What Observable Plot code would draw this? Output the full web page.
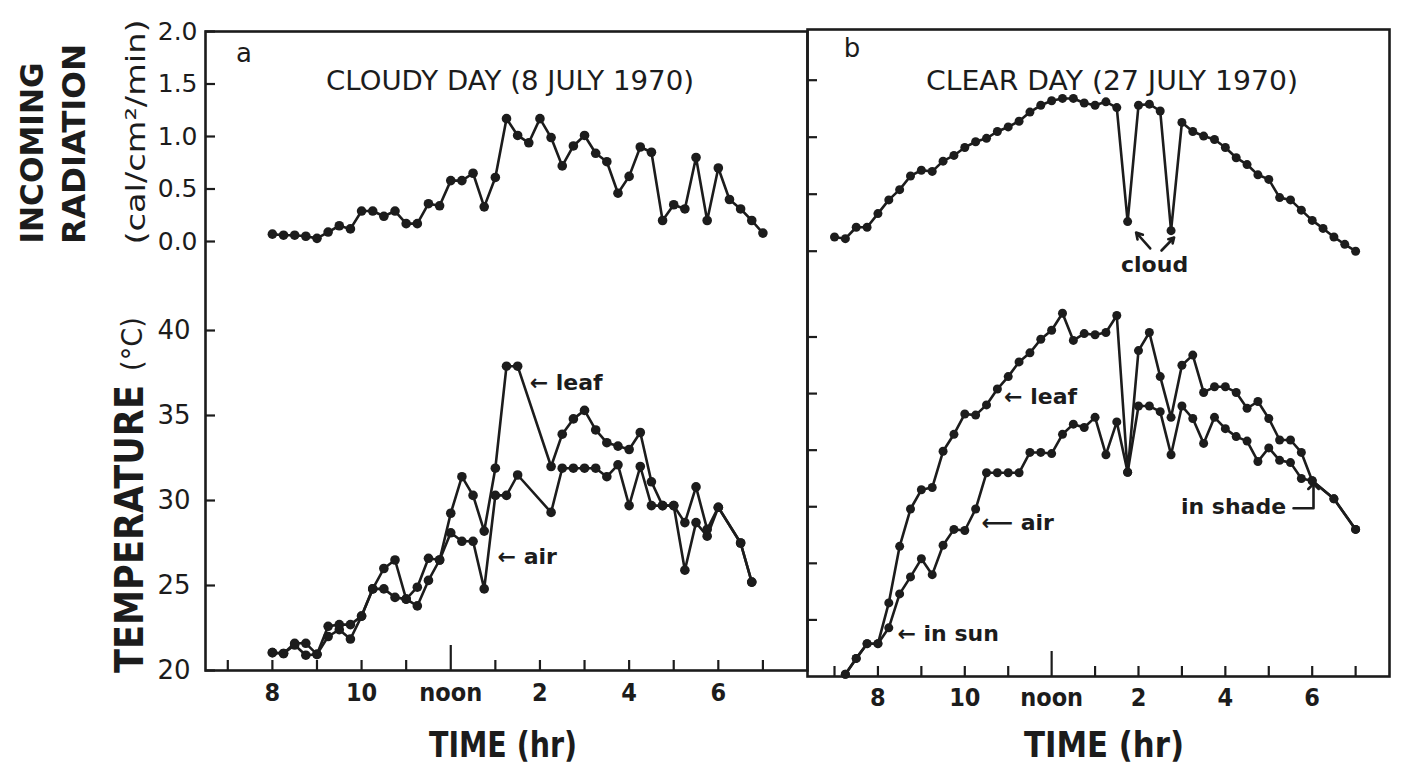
<!DOCTYPE html>
<html><head><meta charset="utf-8">
<script src="https://cdn.jsdelivr.net/npm/d3@7"></script>
<script src="https://cdn.jsdelivr.net/npm/@observablehq/plot@0.6"></script>
<style>
body{margin:0;background:#fff;}
#chart{position:relative;width:1401px;height:764px;overflow:hidden;background:#fff;}
#chart svg{position:absolute;top:0;}
</style></head><body><div id="chart"></div>
<script>
// ---------------- DATA ----------------
// Panel a: cloudy day (8 July 1970) — time in decimal hours
const radATime = [8,8.25,8.5,8.75,9,9.25,9.5,9.75,10,10.25,10.5,10.75,11,11.25,11.5,11.75,12,12.25,12.5,12.75,13,13.25,13.5,13.75,14,14.25,14.5,14.75,15,15.25,15.5,15.75,16,16.25,16.5,16.75,17,17.25,17.5,17.75,18,18.25,18.5,18.75,19];
const radAValue = [0.07,0.06,0.06,0.05,0.03,0.09,0.15,0.12,0.29,0.29,0.24,0.29,0.17,0.17,0.36,0.34,0.58,0.58,0.65,0.33,0.61,1.17,1.01,0.94,1.17,0.99,0.72,0.91,1.01,0.84,0.76,0.46,0.62,0.90,0.85,0.20,0.35,0.31,0.80,0.20,0.70,0.40,0.31,0.20,0.08];

const tempATime = [8,8.25,8.5,8.75,9,9.25,9.5,9.75,10,10.25,10.5,10.75,11,11.25,11.5,11.75,12,12.25,12.5,12.75,13,13.25,13.5,14.25,14.5,14.75,15,15.25,15.5,15.75,16,16.25,16.5,16.75,17,17.25,17.5,17.75,18,18.5,18.75];
const leafA = [21.05,21.0,21.6,21.6,20.95,22.6,22.7,22.7,23.2,24.8,26.0,26.5,24.2,24.9,26.6,26.5,29.25,31.4,30.3,28.2,31.9,37.9,37.9,32.0,33.9,34.8,35.3,34.15,33.4,33.2,33.0,34.0,31.1,29.7,29.7,28.7,30.8,28.3,29.6,27.5,25.2];
const airA  = [21.05,21.0,21.5,20.9,20.95,22.0,22.4,21.85,23.2,24.8,24.8,24.3,24.2,23.8,25.3,26.5,28.1,27.6,27.6,24.8,30.3,30.3,31.5,29.3,31.9,31.9,31.9,31.9,31.4,32.1,29.7,32.0,29.7,29.7,29.7,25.9,28.7,27.9,29.6,27.5,25.2];

// Panel b: clear day (27 July 1970)
const radBTime = [7,7.25,7.5,7.75,8,8.25,8.5,8.75,9,9.25,9.5,9.75,10,10.25,10.5,10.75,11,11.25,11.5,11.75,12,12.25,12.5,12.75,13,13.25,13.5,13.75,14,14.25,14.5,14.75,15,15.25,15.5,15.75,16,16.25,16.5,16.75,17,17.25,17.5,17.75,18,18.25,18.5,18.75,19];
const radBValue = [0.125,0.11,0.21,0.21,0.33,0.45,0.54,0.66,0.71,0.70,0.79,0.84,0.91,0.96,0.99,1.05,1.09,1.14,1.22,1.28,1.32,1.34,1.34,1.30,1.28,1.31,1.26,0.26,1.28,1.29,1.23,0.18,1.13,1.05,1.01,0.98,0.91,0.82,0.76,0.67,0.63,0.47,0.45,0.36,0.27,0.20,0.125,0.06,0.0];

const tempBTime = [7.25,7.5,7.75,8,8.25,8.5,8.75,9,9.25,9.5,9.75,10,10.25,10.5,10.75,11,11.25,11.5,11.75,12,12.25,12.5,12.75,13,13.25,13.5,13.75,14,14.25,14.5,14.75,15,15.25,15.5,15.75,16,16.25,16.5,16.75,17,17.25,17.5,17.75,18,18.5,19];
const leafB = [20.2,21.6,22.9,22.9,26.5,31.5,34.8,36.5,36.7,39.9,41.4,43.2,43.1,44.0,45.4,46.5,47.8,48.6,49.8,50.6,52.1,49.7,50.3,50.2,50.4,51.9,38.05,48.8,50.4,46.5,42.9,47.5,48.4,45.1,45.6,45.6,45.1,43.7,44.3,42.8,40.9,40.9,39.8,37.3,35.7,33.0];
const airB  = [20.2,21.6,22.9,22.9,24.3,27.3,28.8,30.4,29.0,31.6,33.0,32.9,34.8,38.0,38.0,38.0,38.0,39.8,39.8,39.7,41.4,42.3,42.0,42.9,39.6,42.5,38.05,43.9,43.9,43.4,39.6,43.9,42.8,40.6,42.9,41.9,41.2,40.8,39.0,40.2,39.1,38.9,37.5,37.3,35.7,33.0];

// Axis ticks and labels
const hourTicks = [7,8,9,10,11,13,14,15,16,17,18,19];
const noonTick = [12];
const xTickValues = [8,10,12,14,16,18];
const xTickLabels = ["8","10","noon","2","4","6"];
const radATicks = [0,0.5,1,1.5,2];
const tempATicks = [20,25,30,35,40];
const radBTicks = [0,0.5,1,1.5];
const tempBTicks = [25,30,35,40,45,50];

// Annotations (data coordinates)
const annA = [{t:13.77, v:36.9, label:"← leaf"}, {t:13.05, v:26.7, label:"← air"}];
const annB = [{t:10.905, v:44.7, label:"← leaf"}, {t:10.385, v:33.57, label:"⟵ air"}, {t:8.45, v:23.8, label:"← in sun"}];
const shadeLabel = [{t:17.4, v:34.98, label:"in shade"}];
const shadeArrow = [{t:17.57, v:34.87},{t:18.03, v:34.87},{t:18.03, v:36.8}];
const cloudLabel = [{t:14.37, v:-0.125, label:"cloud"}];
const cloudArrows = [{t1:14.27, v1:0.024, t2:13.945, v2:0.164}, {t1:14.53, v1:0.006, t2:14.82, v2:0.12}];

// ---------------- BUILD ----------------
const rows = (ts, vs) => ts.map((t, i) => ({t, v: vs[i]}));
const radA = rows(radATime, radAValue), leafAr = rows(tempATime, leafA), airAr = rows(tempATime, airA);
const radB = rows(radBTime, radBValue), leafBr = rows(tempBTime, leafB), airBr = rows(tempBTime, airB);
const xLabelMap = new Map(xTickValues.map((d, i) => [d, xTickLabels[i]]));

const INK = "#1c1c1c";
const NUM_FONT = "'DejaVu Sans', sans-serif";
const COND_FONT = "'Liberation Sans Narrow', 'DejaVu Sans Condensed', sans-serif";
const chart = document.getElementById("chart");
const H = 764;
const PA = {left: 0, width: 810, mL: 205, mR: 3, x: [6.5, 20.0]};
const PB = {left: 790, width: 611, mL: 17, mR: 12, x: [6.378, 19.78]};

function layer(P, top, bottom, yDomain, marks) {
  const svg = Plot.plot({
    width: P.width, height: H,
    marginLeft: P.mL, marginRight: P.mR, marginTop: top, marginBottom: H - bottom,
    x: {domain: P.x, axis: null},
    y: {domain: yDomain, axis: null},
    style: {background: "none", overflow: "visible", color: INK, fontFamily: NUM_FONT},
    marks
  });
  svg.style.position = "absolute"; svg.style.left = P.left + "px"; svg.style.top = "0px";
  chart.appendChild(svg);
}
const lw = 2.6;
const series = (data, r) => [
  Plot.line(data, {x: "t", y: "v", stroke: INK, strokeWidth: lw}),
  Plot.dot(data, {x: "t", y: "v", fill: INK, r})
];
const leftTicks = (P, vals) => Plot.tickY(vals, {y: d => d, insetRight: (P.width - P.mL - P.mR) - 10, stroke: INK, strokeWidth: 2.2});
const bottomTicks = (h) => [
  Plot.tickX(hourTicks, {x: d => d, insetTop: h - 10, stroke: INK, strokeWidth: 2.2}),
  Plot.tickX(noonTick, {x: d => d, insetTop: h - 25, stroke: INK, strokeWidth: 2.2})
];
const xLabels = (pad) => Plot.axisX(xTickValues, {anchor: "bottom", tickSize: 0, tickPadding: pad, label: null,
  tickFormat: d => xLabelMap.get(d), fontSize: 25, fontWeight: "bold", fontFamily: COND_FONT});
const annText = (data, anchor = "start") => Plot.text(data, {x: "t", y: "v", text: "label", textAnchor: anchor,
  fontFamily: NUM_FONT, fontWeight: "bold", fontSize: 22, fill: INK});

// Frames
layer(PA, 31, 670, [0, 1], [Plot.frame({stroke: INK, strokeWidth: 2.6})]);
layer(PB, 29, 676, [0, 1], [Plot.frame({stroke: INK, strokeWidth: 2.6})]);

// Panel a radiation
layer(PA, 31, 241, [0, 2], [
  leftTicks(PA, radATicks),
  Plot.axisY(radATicks, {anchor: "left", tickSize: 0, tickPadding: 8, label: null, tickFormat: d3.format(".1f"), fontSize: 25}),
  ...series(radA, 4.8)
]);
// Panel a temperature
layer(PA, 330, 670, [20, 40], [
  leftTicks(PA, tempATicks),
  ...bottomTicks(340),
  Plot.axisY(tempATicks, {anchor: "left", tickSize: 0, tickPadding: 15, label: null, fontSize: 26}),
  xLabels(13),
  ...series(airAr, 4.8),
  ...series(leafAr, 4.8),
  annText(annA)
]);
// Panel b radiation
layer(PB, 79.7, 250.7, [0, 1.5], [
  leftTicks(PB, radBTicks),
  ...series(radB, 4.5),
  annText(cloudLabel, "middle"),
  Plot.arrow(cloudArrows, {x1: "t1", y1: "v1", x2: "t2", y2: "v2", stroke: INK, strokeWidth: 2.6, headLength: 9})
]);
// Panel b temperature
layer(PB, 336.5, 676, [20, 50], [
  leftTicks(PB, tempBTicks),
  ...bottomTicks(339.5),
  xLabels(12),
  ...series(airBr, 4.5),
  ...series(leafBr, 4.5),
  annText(annB),
  annText(shadeLabel, "end"),
  Plot.line(shadeArrow, {x: "t", y: "v", stroke: INK, strokeWidth: 2.6, markerEnd: "arrow"})
]);

// Titles and axis titles
const ov = d3.select(chart).append("svg").attr("width", 1401).attr("height", 764)
  .style("left", "0px").style("overflow", "visible");
function txt(s, x, y, {size = 26, family = NUM_FONT, weight = "normal", anchor = "start", len = null, rot = 0} = {}) {
  const t = ov.append("text").text(s)
    .attr("transform", `translate(${x},${y})` + (rot ? ` rotate(${rot})` : ""))
    .attr("font-size", size).attr("font-family", family).attr("font-weight", weight)
    .attr("text-anchor", anchor).attr("fill", INK);
  if (len) t.attr("textLength", len).attr("lengthAdjust", "spacingAndGlyphs");
  return t;
}
txt("a", 244, 62, {size: 26, anchor: "middle"});
txt("b", 852, 57, {size: 26, anchor: "middle"});
txt("CLOUDY DAY (8 JULY 1970)", 326, 90, {size: 27, len: 368});
txt("CLEAR DAY (27 JULY 1970)", 926, 90, {size: 27, len: 372});
txt("INCOMING", 43, 153, {size: 32, family: COND_FONT, weight: "bold", anchor: "middle", len: 181, rot: -90});
txt("RADIATION", 85, 144, {size: 32, family: COND_FONT, weight: "bold", anchor: "middle", len: 200, rot: -90});
txt("(cal/cm²/min)", 145, 132, {size: 26, anchor: "middle", len: 225, rot: -90});
txt("TEMPERATURE", 143, 529, {size: 39, family: COND_FONT, weight: "bold", anchor: "middle", len: 288, rot: -90});
txt("(°C)", 142, 344, {size: 28, anchor: "middle", len: 54, rot: -90});
txt("TIME (hr)", 503, 757, {size: 36, family: COND_FONT, weight: "bold", anchor: "middle", len: 148});
txt("TIME (hr)", 1104, 757, {size: 36, family: COND_FONT, weight: "bold", anchor: "middle", len: 160});
</script></body></html>
